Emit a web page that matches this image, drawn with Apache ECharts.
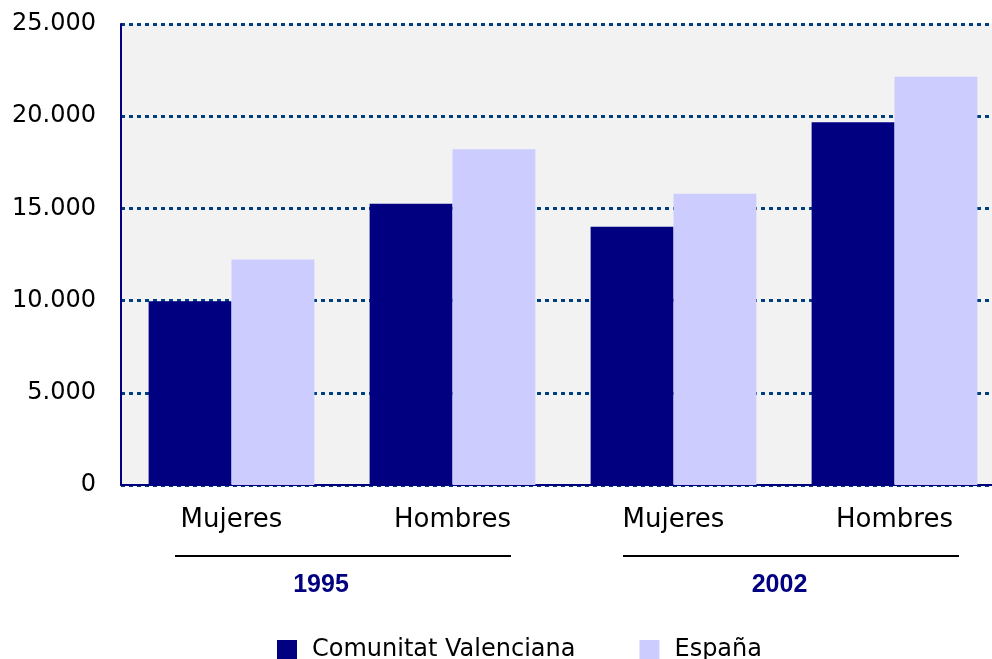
<!DOCTYPE html>
<html>
<head>
<meta charset="utf-8">
<script src="https://cdn.jsdelivr.net/npm/echarts@6/dist/echarts.min.js"></script>
<style>
  html, body { margin: 0; padding: 0; background: #fff; }
  #chart { width: 992px; height: 659px; }
</style>
</head>
<body>
<div id="chart"></div>
<script>
// datos
const categories = ["Mujeres", "Hombres", "Mujeres", "Hombres"];
const years = ["1995", "2002"];
const valenciana = [9970, 15250, 14010, 19670];
const espana = [12230, 18210, 15790, 22140];
const seriesNames = ["Comunitat Valenciana", "España"];

const chart = echarts.init(document.getElementById("chart"));

const option = {
  animation: false,
  grid: {
    left: 121,
    width: 884, // el área del gráfico original queda cortada por la derecha
    top: 24,
    bottom: 174,
    outerBoundsMode: "none",
    show: true,
    backgroundColor: "#f2f2f2",
    borderWidth: 0,
  },
  legend: {
    left: 272,
    top: 633,
    itemWidth: 20,
    itemHeight: 20,
    itemGap: 64,
    icon: "rect",
    textStyle: {
      fontFamily: "DejaVu Sans",
      fontSize: 24,
      color: "#000",
      padding: [0, 0, 0, 10],
    },
    data: seriesNames,
  },
  xAxis: [
    {
      type: "category",
      data: categories,
      axisLine: { lineStyle: { color: "#000080", width: 2 } },
      axisTick: { show: false },
      axisLabel: {
        margin: 22,
        fontFamily: "DejaVu Sans",
        fontSize: 26,
        color: "#000",
      },
    },
    {
      type: "category",
      position: "bottom",
      // etiquetas de año, algo desplazadas como en el original
      data: [
        { value: years[0], textStyle: { padding: [0, 42, 0, 0] } },
        { value: years[1], textStyle: { padding: [0, 9, 0, 0] } },
      ],
      axisLine: { show: false },
      axisTick: { show: false },
      splitLine: { show: false },
      axisLabel: {
        margin: 88,
        fontFamily: "Liberation Sans",
        fontWeight: "bold",
        fontSize: 25,
        color: "#000080",
      },
    },
  ],
  yAxis: {
    type: "value",
    min: 0,
    max: 25000,
    interval: 5000,
    axisLine: { show: true, lineStyle: { color: "#000080", width: 2 } },
    axisTick: { show: false },
    axisLabel: {
      margin: 25,
      fontFamily: "DejaVu Sans",
      fontSize: 24,
      color: "#000",
      formatter: (v) => String(v).replace(/\B(?=(\d{3})+(?!\d))/g, "."),
    },
    splitLine: {
      lineStyle: { color: "#004080", width: 3, type: [4, 4] },
    },
  },
  series: [
    {
      name: seriesNames[0],
      type: "bar",
      data: valenciana,
      barGap: 0,
      barCategoryGap: "25%",
      itemStyle: { color: "#000080" },
    },
    {
      name: seriesNames[1],
      type: "bar",
      data: espana,
      barGap: 0,
      barCategoryGap: "25%",
      itemStyle: { color: "#ccccff" },
    },
  ],
  // líneas que agrupan las categorías por año
  graphic: [
    {
      type: "line",
      shape: { x1: 175, y1: 556, x2: 511, y2: 556 },
      style: { stroke: "#000", lineWidth: 2 },
    },
    {
      type: "line",
      shape: { x1: 623, y1: 556, x2: 959, y2: 556 },
      style: { stroke: "#000", lineWidth: 2 },
    },
  ],
};

chart.setOption(option);
</script>
</body>
</html>
